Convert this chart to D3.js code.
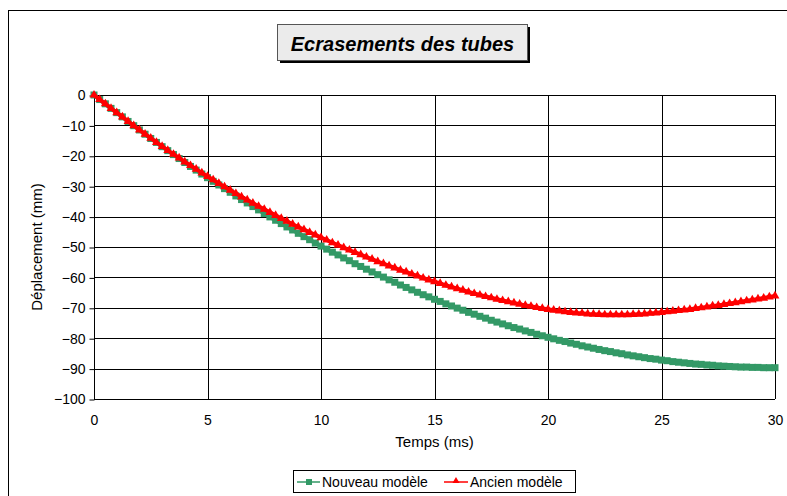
<!DOCTYPE html>
<html>
<head>
<meta charset="utf-8">
<script src="https://cdn.jsdelivr.net/npm/d3@7"></script>
<style>
  body { margin: 0; background: #fff; }
  svg text { font-family: Arial, "Liberation Sans", sans-serif; }
</style>
</head>
<body>
<svg></svg>
<script>
var width = 787;
var height = 496;

// time samples (ms), one every 0.25 ms
var temps = d3.range(0, 30.001, 0.25);

// Nouveau modèle (mm)
var nouveau = [
  0, -1.5, -2.9, -4.4, -5.8, -7.2, -8.7, -10.1, -11.5, -12.9, -14.3, -15.6, -17.0,
  -18.3, -19.6, -20.9, -22.2, -23.5, -24.7, -26.0, -27.2, -28.4, -29.6, -30.8, -32.0,
  -33.2, -34.4, -35.5, -36.7, -37.8, -39.0, -40.1, -41.2, -42.3, -43.4, -44.4, -45.5,
  -46.6, -47.6, -48.7, -49.7, -50.7, -51.7, -52.6, -53.6, -54.5, -55.5, -56.4, -57.3,
  -58.2, -59.1, -59.9, -60.8, -61.6, -62.5, -63.3, -64.1, -64.9, -65.7, -66.4, -67.2,
  -67.9, -68.7, -69.4, -70.1, -70.8, -71.5, -72.1, -72.8, -73.4, -74.1, -74.7, -75.3,
  -75.9, -76.5, -77.0, -77.6, -78.1, -78.7, -79.2, -79.7, -80.2, -80.7, -81.1, -81.6,
  -82.0, -82.5, -82.9, -83.3, -83.7, -84.1, -84.4, -84.8, -85.1, -85.5, -85.8, -86.1,
  -86.4, -86.7, -86.9, -87.2, -87.4, -87.7, -87.9, -88.1, -88.3, -88.5, -88.6, -88.8,
  -88.9, -89.1, -89.2, -89.3, -89.4, -89.5, -89.5, -89.6, -89.6, -89.7, -89.7, -89.7
];

// Ancien modèle (mm)
var ancien = [
  0, -1.5, -2.9, -4.4, -5.8, -7.2, -8.7, -10.1, -11.5, -12.9, -14.2, -15.6, -16.9,
  -18.2, -19.5, -20.7, -22.0, -23.2, -24.4, -25.6, -26.8, -27.9, -29.1, -30.2, -31.3,
  -32.4, -33.5, -34.5, -35.6, -36.6, -37.6, -38.6, -39.6, -40.6, -41.5, -42.5, -43.4,
  -44.3, -45.2, -46.0, -46.9, -47.7, -48.6, -49.4, -50.2, -51.0, -51.8, -52.5, -53.3,
  -54.0, -54.8, -55.5, -56.2, -56.9, -57.6, -58.2, -58.9, -59.5, -60.2, -60.8, -61.4,
  -62.0, -62.6, -63.1, -63.7, -64.2, -64.8, -65.3, -65.8, -66.3, -66.7, -67.2, -67.6,
  -68.0, -68.4, -68.8, -69.2, -69.5, -69.9, -70.2, -70.5, -70.8, -71.0, -71.3, -71.5,
  -71.7, -71.8, -72.0, -72.1, -72.2, -72.3, -72.3, -72.3, -72.3, -72.3, -72.2, -72.1,
  -72.0, -71.8, -71.7, -71.5, -71.3, -71.1, -70.9, -70.7, -70.5, -70.2, -70.0, -69.7,
  -69.4, -69.2, -68.9, -68.6, -68.3, -68.0, -67.7, -67.4, -67.1, -66.8, -66.4, -66.1
];

var xTicks = [0, 5, 10, 15, 20, 25, 30];
var yTicks = [0, -10, -20, -30, -40, -50, -60, -70, -80, -90, -100];

var svg = d3.select("svg")
    .attr("width", width)
    .attr("height", height);

// outer chart frame (goes off the right and bottom of the picture)
svg.append("rect")
    .attr("x", 8.5).attr("y", 10.5)
    .attr("width", 820).attr("height", 520)
    .attr("fill", "#fff")
    .attr("stroke", "#000");

var plotLeft = 94, plotRight = 775, plotTop = 95, plotBottom = 399;

var x = d3.scaleLinear().domain([0, 30]).range([plotLeft, plotRight]);
var y = d3.scaleLinear().domain([-100, 0]).range([plotBottom, plotTop]);

// grid
svg.append("g")
    .selectAll("line")
    .data(yTicks)
    .enter().append("line")
    .attr("x1", plotLeft).attr("x2", plotRight)
    .attr("y1", function(d) { return Math.round(y(d)) + 0.5; })
    .attr("y2", function(d) { return Math.round(y(d)) + 0.5; })
    .attr("stroke", "#000");

svg.append("g")
    .selectAll("line")
    .data(xTicks)
    .enter().append("line")
    .attr("y1", plotTop).attr("y2", plotBottom)
    .attr("x1", function(d) { return Math.round(x(d)) + 0.5; })
    .attr("x2", function(d) { return Math.round(x(d)) + 0.5; })
    .attr("stroke", "#000");

// y tick marks + labels
var yAxis = d3.axisLeft(y).tickValues(yTicks).tickSize(5).tickPadding(4);
var gy = svg.append("g")
    .attr("transform", "translate(" + (plotLeft + 0.5) + ",0.5)")
    .call(yAxis);
gy.select(".domain").remove();
gy.selectAll("line").attr("stroke", "#000");
gy.selectAll("text").attr("font-size", 14).attr("fill", "#000")
    .style("font-family", "Arial, 'Liberation Sans', sans-serif");

// x labels
var xAxis = d3.axisBottom(x).tickValues(xTicks).tickSize(0).tickPadding(16);
var gx = svg.append("g")
    .attr("transform", "translate(0," + (plotBottom + 0.5) + ")")
    .call(xAxis);
gx.select(".domain").remove();
gx.selectAll("text").attr("font-size", 14).attr("fill", "#000")
    .style("font-family", "Arial, 'Liberation Sans', sans-serif");

// axis titles
svg.append("text")
    .attr("x", (plotLeft + plotRight) / 2)
    .attr("y", 447)
    .attr("text-anchor", "middle")
    .attr("font-size", 15)
    .text("Temps (ms)");

svg.append("text")
    .attr("transform", "translate(42," + ((plotTop + plotBottom) / 2) + ") rotate(-90)")
    .attr("text-anchor", "middle")
    .attr("font-size", 15)
    .text("Déplacement (mm)");

// series
var data = temps.map(function(t, i) {
    return { t: t, n: nouveau[i], a: ancien[i] };
});

var green = "#339966";
var red = "#ff0000";

var lineN = d3.line().x(function(d) { return x(d.t); }).y(function(d) { return y(d.n); });
var lineA = d3.line().x(function(d) { return x(d.t); }).y(function(d) { return y(d.a); });

svg.append("path")
    .datum(data)
    .attr("d", lineN)
    .attr("fill", "none")
    .attr("stroke", green)
    .attr("stroke-width", 4);

svg.append("g")
    .selectAll("rect")
    .data(data)
    .enter().append("rect")
    .attr("x", function(d) { return x(d.t) - 3.5; })
    .attr("y", function(d) { return y(d.n) - 3.5; })
    .attr("width", 7).attr("height", 7)
    .attr("fill", green);

svg.append("path")
    .datum(data)
    .attr("d", lineA)
    .attr("fill", "none")
    .attr("stroke", red)
    .attr("stroke-width", 4);

var tri = d3.symbol().type(d3.symbolTriangle).size(34);
svg.append("g")
    .selectAll("path")
    .data(data)
    .enter().append("path")
    .attr("d", tri)
    .attr("transform", function(d) { return "translate(" + x(d.t) + "," + y(d.a) + ")"; })
    .attr("fill", red);

// title box with shadow
var title = svg.append("g");
title.append("rect")
    .attr("x", 280).attr("y", 27)
    .attr("width", 250).attr("height", 36)
    .attr("fill", "#000");
title.append("rect")
    .attr("x", 277.5).attr("y", 24.5)
    .attr("width", 250).attr("height", 36)
    .attr("fill", "#ebebeb")
    .attr("stroke", "#555");
title.append("text")
    .attr("x", 402.5)
    .attr("y", 51)
    .attr("text-anchor", "middle")
    .attr("font-size", 20)
    .attr("font-weight", "bold")
    .attr("font-style", "italic")
    .text("Ecrasements des tubes");

// legend
var legend = svg.append("g");
legend.append("rect")
    .attr("x", 293.5).attr("y", 470.5)
    .attr("width", 282).attr("height", 22)
    .attr("fill", "#fff")
    .attr("stroke", "#000");

legend.append("line")
    .attr("x1", 297).attr("x2", 320).attr("y1", 482).attr("y2", 482)
    .attr("stroke", green).attr("stroke-width", 1.5);
legend.append("rect")
    .attr("x", 306).attr("y", 479).attr("width", 6).attr("height", 6)
    .attr("fill", green);
legend.append("text")
    .attr("x", 322).attr("y", 487)
    .attr("font-size", 14)
    .text("Nouveau modèle");

legend.append("line")
    .attr("x1", 444).attr("x2", 468).attr("y1", 482).attr("y2", 482)
    .attr("stroke", red).attr("stroke-width", 1.5);
legend.append("path")
    .attr("d", d3.symbol().type(d3.symbolTriangle).size(22))
    .attr("transform", "translate(456,481)")
    .attr("fill", red);
legend.append("text")
    .attr("x", 470).attr("y", 487)
    .attr("font-size", 14)
    .text("Ancien modèle");
</script>
</body>
</html>
